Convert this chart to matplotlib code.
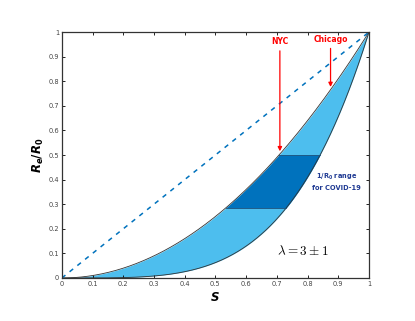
import matplotlib
matplotlib.use('Agg')
import matplotlib.pyplot as plt
import numpy as np

# herd-immunity curves R_e/R_0 = S^lambda, lambda = 3 +/- 1
lam_low = 2
lam_high = 4
inv_r0_min = 0.286   # 1/R0 range for COVID-19
inv_r0_max = 0.5

nyc_s = 0.71
chicago_s = 0.875

s = np.linspace(0, 1, 400)
upper = s ** lam_low
lower = s ** lam_high

light = '#4DBEEE'
dark = '#0072BD'

plt.rcParams['mathtext.fontset'] = 'custom'
plt.rcParams['mathtext.it'] = 'DejaVu Sans:italic:bold'
plt.rcParams['mathtext.rm'] = 'DejaVu Sans:bold'

fig = plt.figure(figsize=(4.15, 3.21), dpi=100)
ax = fig.add_axes([0.149, 0.134, 0.740, 0.766])

ax.fill_between(s, lower, upper, color=light, linewidth=0)
ax.plot(s, upper, color='#333333', lw=0.6)
ax.plot(s, lower, color='#333333', lw=0.6)

# dark band where y lies in 1/R0 range
yy = np.linspace(inv_r0_min, inv_r0_max, 100)
s_left = yy ** (1.0 / lam_low)
s_right = yy ** (1.0 / lam_high)
ax.fill_betweenx(yy, s_left, s_right, color=dark, linewidth=0)
for yv in (inv_r0_min, inv_r0_max):
    ax.plot([yv ** (1.0 / lam_low), yv ** (1.0 / lam_high)], [yv, yv],
            color='#1a4f7a', lw=0.6)

ax.plot([0, 1], [0, 1], '--', color=dark, lw=1.1, dashes=(3, 3.5))

ax.annotate('', xy=(nyc_s, nyc_s ** lam_low), xytext=(nyc_s, 0.935),
            arrowprops=dict(arrowstyle='-|>', color='red', lw=0.9,
                            mutation_scale=6))
ax.text(nyc_s, 0.96, 'NYC', color='red', fontsize=5.5, fontweight='bold',
        ha='center', va='center')
ax.annotate('', xy=(chicago_s, chicago_s ** lam_low), xytext=(chicago_s, 0.945),
            arrowprops=dict(arrowstyle='-|>', color='red', lw=0.9,
                            mutation_scale=6))
ax.text(chicago_s, 0.97, 'Chicago', color='red', fontsize=5.5, fontweight='bold',
        ha='center', va='center')

ax.text(0.895, 0.41, r'1/R$_\mathrm{0}$ range', color='#1f3a93', fontsize=4.8,
        fontweight='bold', ha='center', va='center')
ax.text(0.895, 0.366, 'for COVID-19', color='#1f3a93', fontsize=4.8,
        fontweight='bold', ha='center', va='center')
ax.text(0.785, 0.11, r'$\lambda = 3 \pm 1$', fontsize=9.5, ha='center', va='center',
        math_fontfamily='cm')

ax.set_xlim(0, 1)
ax.set_ylim(0, 1)
ticks = np.round(np.arange(0, 1.01, 0.1), 1)
ax.set_xticks(ticks)
ax.set_yticks(ticks)
ax.set_xticklabels(['0' if t == 0 else ('1' if t == 1 else f'{t:g}') for t in ticks])
ax.set_yticklabels(['0' if t == 0 else ('1' if t == 1 else f'{t:g}') for t in ticks])
ax.tick_params(direction='in', length=2.5, width=0.6, labelsize=4.8,
               labelcolor='#444444', top=True, right=True, pad=2)
for sp in ax.spines.values():
    sp.set_linewidth(0.9)
    sp.set_color('#333333')

ax.set_xlabel('S', fontsize=8.5, fontstyle='italic', fontweight='bold', labelpad=3)
ax.set_ylabel(r'$R_e/R_0$', fontsize=8.5, labelpad=2)

fig.savefig('out.png', dpi=100)
